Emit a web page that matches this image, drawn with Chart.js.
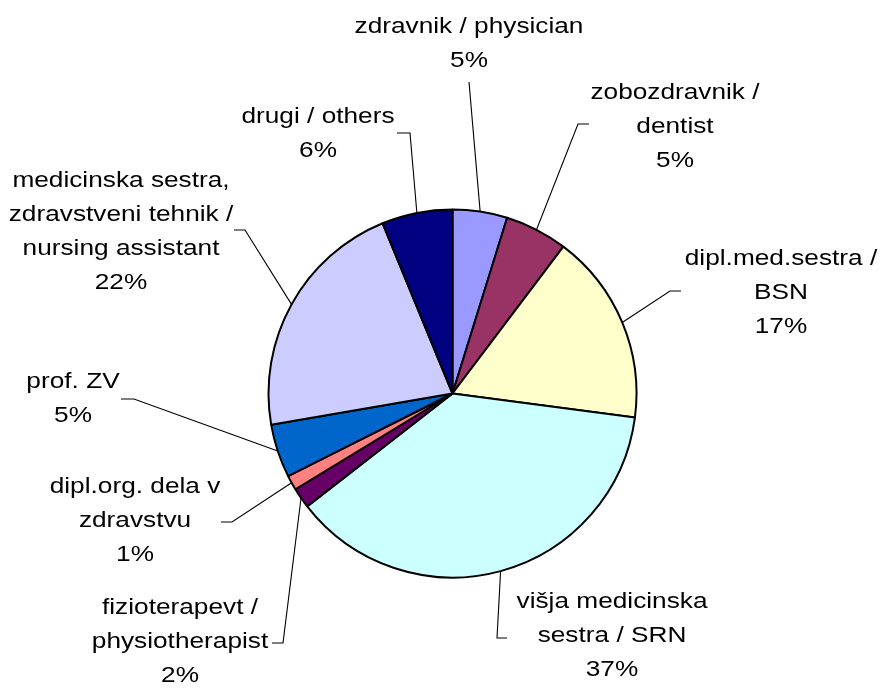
<!DOCTYPE html>
<html>
<head>
<meta charset="utf-8">
<script src="https://cdn.jsdelivr.net/npm/chart.js@4.4.1/dist/chart.umd.min.js"></script>
<style>
  html, body { margin: 0; padding: 0; background: #fff; }
  #wrap { width: 882px; height: 689px; position: relative; }
</style>
</head>
<body>
<div id="wrap"><canvas id="graph_poklic"></canvas></div>
<script>
// poklic anketirancev (delež v %)
var poklici = [
    ['zdravnik / physician'],
    ['zobozdravnik /', 'dentist'],
    ['dipl.med.sestra /', 'BSN'],
    ['višja medicinska', 'sestra / SRN'],
    ['fizioterapevt /', 'physiotherapist'],
    ['dipl.org. dela v', 'zdravstvu'],
    ['prof. ZV'],
    ['medicinska sestra,', 'zdravstveni tehnik /', 'nursing assistant'],
    ['drugi / others']
];
var delezi = [4.8, 5.49, 16.8, 37.4, 1.8, 1.3, 4.7, 21.51, 6.2];
var barve = ['#9999FF', '#993366', '#FFFFCC', '#CCFFFF', '#660066', '#FF8080', '#0066CC', '#CCCCFF', '#000080'];

// postavitev oznak: sredina besedila, prva osnovnica, koleno in konec vodilne črte
var oznake = [
    { x: 469, y: 33,  koleno: null,       konec: [469, 82] },
    { x: 675, y: 99,  koleno: [578, 124], konec: [589, 124] },
    { x: 781, y: 265, koleno: [670, 291], konec: [681, 291] },
    { x: 612, y: 608, koleno: [497, 638], konec: [507, 638] },
    { x: 180, y: 614, koleno: [283, 643], konec: [272, 643] },
    { x: 135, y: 493, koleno: [232, 522], konec: [221, 522] },
    { x: 73,  y: 388, koleno: [134, 399], konec: [121, 399] },
    { x: 121, y: 187, koleno: [245, 230], konec: [234, 230] },
    { x: 318, y: 123, koleno: [410, 133], konec: [397, 133] }
];

var oznakePlugin = {
    id: 'oznake',
    afterDatasetsDraw: function(chart) {
        var c = chart.ctx;
        var meta = chart.getDatasetMeta(0);
        var vsota = delezi.reduce(function(a, b) { return a + b; }, 0);
        c.save();
        meta.data.forEach(function(arc, i) {
            var p = oznake[i];
            var kot = (arc.startAngle + arc.endAngle) / 2;
            var sx = arc.x + Math.cos(kot) * arc.outerRadius;
            var sy = arc.y + Math.sin(kot) * arc.outerRadius;
            // vodilna črta
            c.strokeStyle = '#000';
            c.lineWidth = 1.1;
            c.beginPath();
            c.moveTo(sx, sy);
            if (p.koleno) c.lineTo(p.koleno[0], p.koleno[1]);
            c.lineTo(p.konec[0], p.konec[1]);
            c.stroke();
            // besedilo
            var vrstice = poklici[i].concat([Math.round(delezi[i] / vsota * 100) + '%']);
            c.fillStyle = '#000';
            c.font = '21.5px "Liberation Sans", Arial, sans-serif';
            c.textAlign = 'center';
            c.textBaseline = 'alphabetic';
            vrstice.forEach(function(t, j) {
                c.save();
                c.translate(p.x, p.y + j * 34);
                c.scale(1.22, 1);
                c.fillText(t, 0, 0);
                c.restore();
            });
        });
        c.restore();
    }
};

var ctx = document.getElementById('graph_poklic');

var myChart_poklic = new Chart(ctx, {
    type: 'pie',
    data: {
        labels: poklici.map(function(l) { return l.join(' '); }),
        datasets: [{
            data: delezi,
            backgroundColor: barve,
            borderColor: '#000',
            borderWidth: 2
        }]
    },
    options: {
        responsive: true,
        maintainAspectRatio: false,
        animation: false,
        radius: 184,
        events: [],
        layout: {
            padding: { left: 23, right: 0, top: 98, bottom: 0 }
        },
        plugins: {
            legend: { display: false },
            tooltip: { enabled: false }
        }
    },
    plugins: [oznakePlugin]
});
</script>
</body>
</html>
